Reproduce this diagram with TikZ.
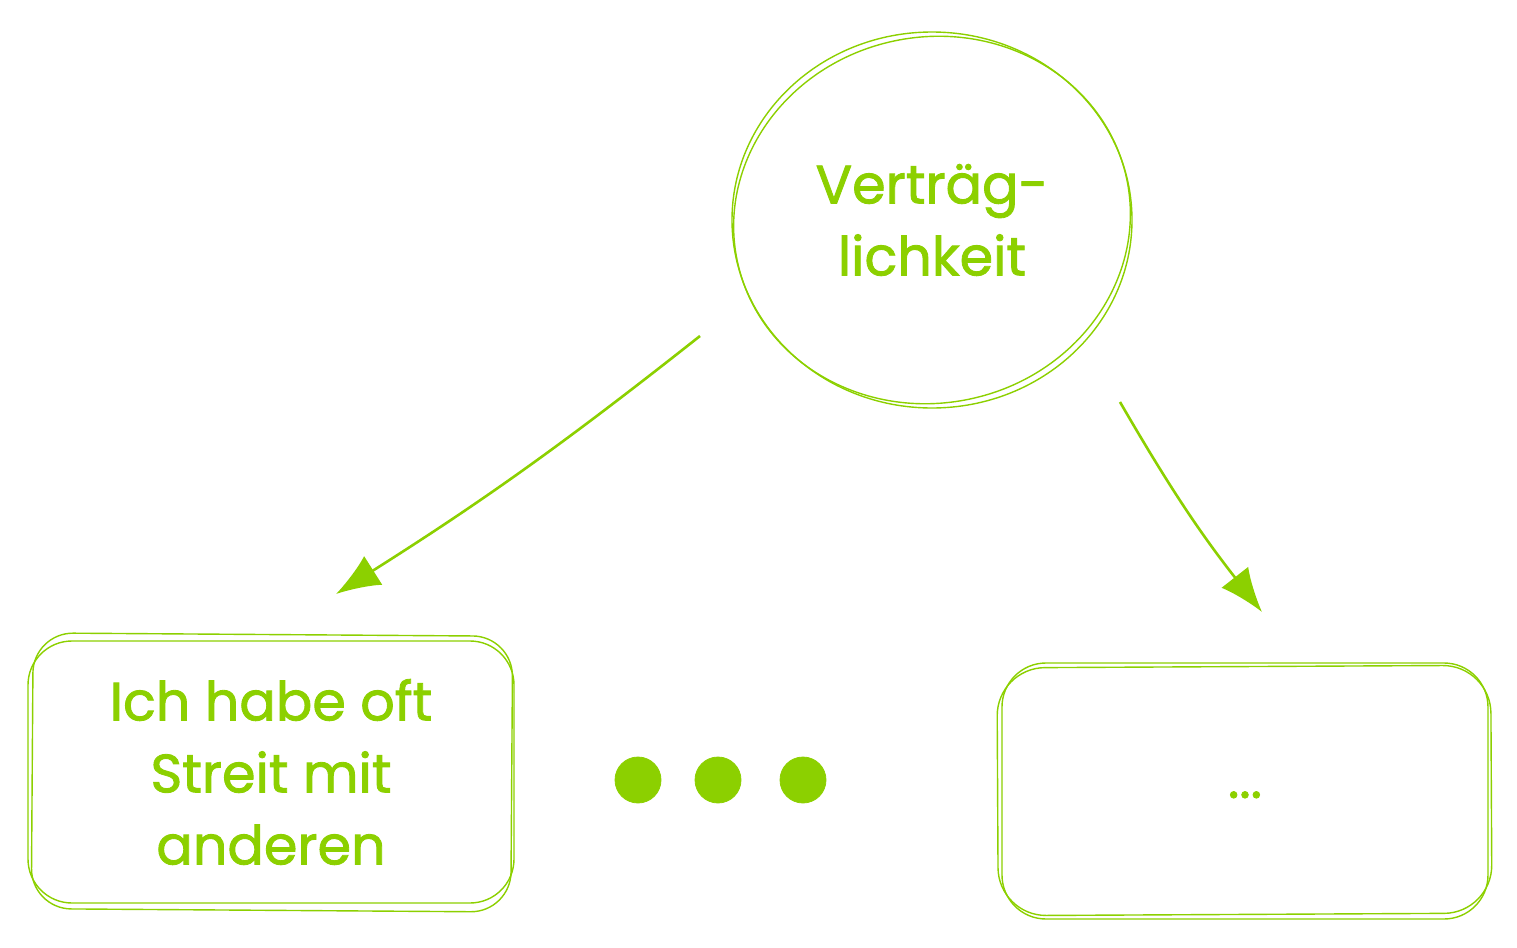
\documentclass[tikz,border=0pt]{standalone}
\usepackage{fontspec}
\setmainfont{Poppins}
\newfontfamily\handfont{Poppins}[FakeBold=1.6]
\usepackage{xcolor}
\usepackage{tikz}
\usetikzlibrary{arrows.meta, positioning}
\usetikzlibrary{shapes.geometric}
\usetikzlibrary{calc}
\definecolor{lime}{HTML}{8CD000}

\begin{document}
\begin{tikzpicture}[x=0.5pt, y=-0.5pt,
    sketch/.style={draw=lime, line width=0.7pt},
    label/.style={text=lime, align=center, font=\handfont\fontsize{27}{36}\selectfont},
    blob/.style={sketch, ellipse, minimum width=200pt, minimum height=188pt, inner sep=0pt},
    card/.style={sketch, rectangle, rounded corners=22pt, minimum width=243pt, minimum height=131pt},
    dot/.style={circle, fill=lime, draw=lime, minimum size=23pt, inner sep=0pt},
    link/.style={draw=lime, line width=1.3pt, -{Latex[length=22pt, width=17pt]}}]
    \useasboundingbox (0,0) rectangle (1517,948);
    % top circle
    \node[blob, label] (vert) at (932,220) {Verträg-\\lichkeit};
    \draw[sketch, rotate around={12:(vert.center)}] (vert.center) ellipse [x radius=199, y radius=183];
    % bottom cards
    \node[card, label] (streit) at (271,772) {Ich habe oft\\Streit mit\\anderen};
    \draw[sketch, rounded corners=20pt, rotate around={-0.4:(streit.center)}] ($(streit.south west)+(4,5)$) rectangle ($(streit.north east)+(-2,-4)$);
    \node[card, minimum height=128pt, label] (rest) at (1245,791) {\raisebox{-7pt}{...}};
    \draw[sketch, rounded corners=24pt, rotate around={0.3:(rest.center)}] ($(rest.south west)+(-3,-4)$) rectangle ($(rest.north east)+(2,3)$);
    % dots
    \node[dot] (d1) at (638,780) {};
    \node[dot] (d2) at (718,780) {};
    \node[dot] (d3) at (803,780) {};
    % arrows
    \coordinate (a1) at (700,336);
    \coordinate (b1) at (336,594);
    \coordinate (a2) at (1120,402);
    \coordinate (b2) at (1262,612);
    \draw[link] (a1) to[bend left=3] (b1);
    \draw[link] (a2) to[bend right=4] (b2);
\end{tikzpicture}
\end{document}
